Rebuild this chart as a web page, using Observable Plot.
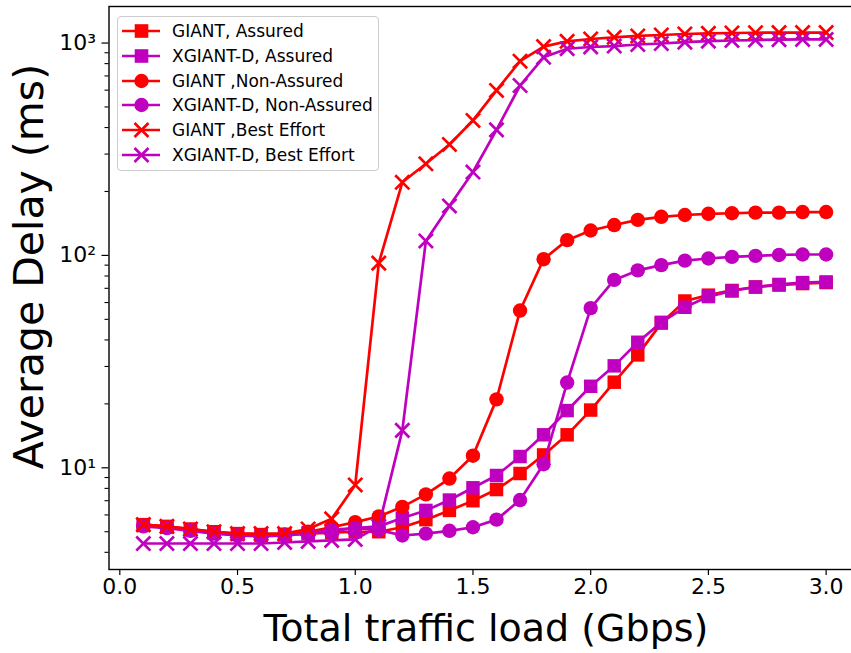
<!DOCTYPE html>
<html>
<head>
<meta charset="utf-8">
<script src="https://cdn.jsdelivr.net/npm/d3@7"></script>
<script src="https://cdn.jsdelivr.net/npm/@observablehq/plot@0.6"></script>
<style>
  html, body { margin: 0; padding: 0; background: white; }
  #wrap { position: relative; width: 851px; height: 653px; overflow: hidden; font-family: "DejaVu Sans", sans-serif; }
  #chart { position: absolute; left: 0; top: 0; }
  .axtitle { position: absolute; font-size: 38px; color: #000; white-space: nowrap; line-height: 1; }
  #ytitle { font-size: 41px; }
  #legend { position: absolute; left: 117px; top: 16px; width: 260px; height: 153px; border: 1px solid #cccccc; border-radius: 4px; background: rgba(255,255,255,0.8); }
  .lrow { position: absolute; left: 0; height: 20px; }
  .lrow svg { position: absolute; left: 0; top: 0; }
  .lrow span { position: absolute; left: 54px; top: 0; font-size: 17px; line-height: 20px; color: #000; white-space: nowrap; }
</style>
</head>
<body>
<div id="wrap">
  <div id="chart"></div>
  <div class="axtitle" id="xtitle">Total traffic load (Gbps)</div>
  <div class="axtitle" id="ytitle">Average Delay (ms)</div>
  <div id="legend"></div>
</div>
<script>
// ---- data ----
const load = [0.1,0.2,0.3,0.4,0.5,0.6,0.7,0.8,0.9,1.0,1.1,1.2,1.3,1.4,1.5,1.6,1.7,1.8,1.9,2.0,2.1,2.2,2.3,2.4,2.5,2.6,2.7,2.8,2.9,3.0];
const giantAssured   = [5.4,5.3,5.15,5.0,4.9,4.85,4.85,4.9,4.95,5.0,5.0,5.25,5.7,6.3,7.0,7.9,9.4,11.5,14.3,18.7,25.3,34,48,61,65,68.4,71,72.5,73.7,74.5];
const xgiantAssured  = [5.35,5.25,5.1,4.95,4.85,4.8,4.85,4.95,5.05,5.2,5.3,5.8,6.3,7.05,8.05,9.2,11.3,14.3,18.6,24.2,30.2,39,48.4,57,64,68,71,73,74.5,75];
const giantNonAssured  = [5.35,5.25,5.1,4.95,4.85,4.8,4.85,5.0,5.25,5.55,5.9,6.55,7.5,8.9,11.4,21,55,96,118,131,139,147,152,155,157,158,159,159,160,160];
const xgiantNonAssured = [5.3,5.2,5.05,4.9,4.8,4.75,4.8,4.9,5.1,5.2,5.1,4.8,4.9,5.05,5.25,5.7,7.05,10.4,25.2,56.5,76.7,85,90,94.5,96.7,98.4,99.5,100.5,101,101];
const giantBestEffort  = [5.4,5.3,5.15,5.0,4.9,4.9,4.9,5.15,5.75,8.3,92,221,270,333,432,598,821,962,1019,1045,1064,1080,1091,1103,1111,1115,1118,1120,1120,1120];
const xgiantBestEffort = [4.4,4.4,4.4,4.4,4.4,4.4,4.45,4.5,4.55,4.6,5.3,15,117,171,247,390,631,857,940,958,968,984,995,1010,1020,1028,1033,1037,1040,1040];

const seriesNames = ["GIANT, Assured","XGIANT-D, Assured","GIANT ,Non-Assured","XGIANT-D, Non-Assured","GIANT ,Best Effort","XGIANT-D, Best Effort"];
const seriesValues = [giantAssured, xgiantAssured, giantNonAssured, xgiantNonAssured, giantBestEffort, xgiantBestEffort];
const seriesColors = ["#ff0000","#bf00bf","#ff0000","#bf00bf","#ff0000","#bf00bf"];
const seriesSymbols = ["square","square","circle","circle","times","times"];

const xTicks = [0.0,0.5,1.0,1.5,2.0,2.5,3.0];
const xTickLabels = ["0.0","0.5","1.0","1.5","2.0","2.5","3.0"];
const yTicks = [10,100,1000];
const yTickLabels = ["10¹","10²","10³"];
const yMinorTicks = [4,5,6,7,8,9,20,30,40,50,60,70,80,90,200,300,400,500,600,700,800,900];

// ---- chart ----
const marks = [];
seriesValues.forEach((vals, i) => {
  const rows = load.map((x, j) => ({x, y: vals[j]}));
  marks.push(Plot.line(rows, {x: "x", y: "y", stroke: seriesColors[i], strokeWidth: 2.7}));
  const sym = seriesSymbols[i];
  if (sym === "times") {
    marks.push(Plot.dot(rows, {x: "x", y: "y", symbol: "times", r: 6.5, stroke: seriesColors[i], strokeWidth: 2.7}));
  } else if (sym === "square") {
    marks.push(Plot.dot(rows, {x: "x", y: "y", symbol: "square", r: 7.6, fill: seriesColors[i], stroke: "none"}));
  } else {
    marks.push(Plot.dot(rows, {x: "x", y: "y", symbol: "circle", r: 7.2, fill: seriesColors[i], stroke: "none"}));
  }
});

const chart = Plot.plot({
  width: 851,
  height: 653,
  marginLeft: 108.5,
  marginRight: -9,
  marginTop: 6,
  marginBottom: 84,
  style: {fontFamily: "DejaVu Sans", fontSize: "22px", background: "white", color: "black", overflow: "visible"},
  x: {domain: [-0.0459, 3.146], label: null},
  y: {type: "log", domain: [3.32, 1486], label: null},
  marks: [
    ...marks,
    Plot.frame({stroke: "black", strokeWidth: 1.4}),
    Plot.axisX(xTicks, {tickSize: 6, tickPadding: 3, strokeWidth: 1.2, tickFormat: d => xTickLabels[xTicks.indexOf(d)], fontSize: 22, label: null}),
    Plot.axisY(yMinorTicks, {tickSize: 4, strokeWidth: 1.1, tickFormat: () => "", label: null}),
    Plot.axisY(yTicks, {tickSize: 7, tickPadding: 6, strokeWidth: 1.2, tickFormat: d => yTickLabels[yTicks.indexOf(d)], fontSize: 22, label: null})
  ]
});
document.getElementById("chart").appendChild(chart);

// axis titles
const xt = document.getElementById("xtitle");
const xw = xt.getBoundingClientRect().width;
xt.style.left = (486 - xw / 2) + "px";
xt.style.top = "609px";
const yt = document.getElementById("ytitle");
const yw = yt.getBoundingClientRect().width;
const yh = yt.getBoundingClientRect().height;
yt.style.left = (30 - yw / 2) + "px";
yt.style.top = (266 - yh / 2) + "px";
yt.style.transform = "rotate(-90deg)";

// legend
const legend = document.getElementById("legend");
seriesNames.forEach((name, i) => {
  const row = document.createElement("div");
  row.className = "lrow";
  row.style.top = (4 + i * 24.75) + "px";
  row.style.width = "258px";
  const svg = d3.create("svg").attr("width", 50).attr("height", 20);
  svg.append("line").attr("x1", 4).attr("x2", 42).attr("y1", 10).attr("y2", 10)
    .attr("stroke", seriesColors[i]).attr("stroke-width", 2.7);
  const cx = 23.5, cy = 10;
  if (seriesSymbols[i] === "square") {
    svg.append("rect").attr("x", cx - 6.8).attr("y", cy - 6.8).attr("width", 13.6).attr("height", 13.6).attr("fill", seriesColors[i]);
  } else if (seriesSymbols[i] === "circle") {
    svg.append("circle").attr("cx", cx).attr("cy", cy).attr("r", 7.2).attr("fill", seriesColors[i]);
  } else {
    svg.append("path").attr("d", `M${cx-7},${cy-7}L${cx+7},${cy+7}M${cx-7},${cy+7}L${cx+7},${cy-7}`)
      .attr("stroke", seriesColors[i]).attr("stroke-width", 2.7).attr("fill", "none");
  }
  row.appendChild(svg.node());
  const sp = document.createElement("span");
  sp.textContent = name;
  row.appendChild(sp);
  legend.appendChild(row);
});
</script>
</body>
</html>
